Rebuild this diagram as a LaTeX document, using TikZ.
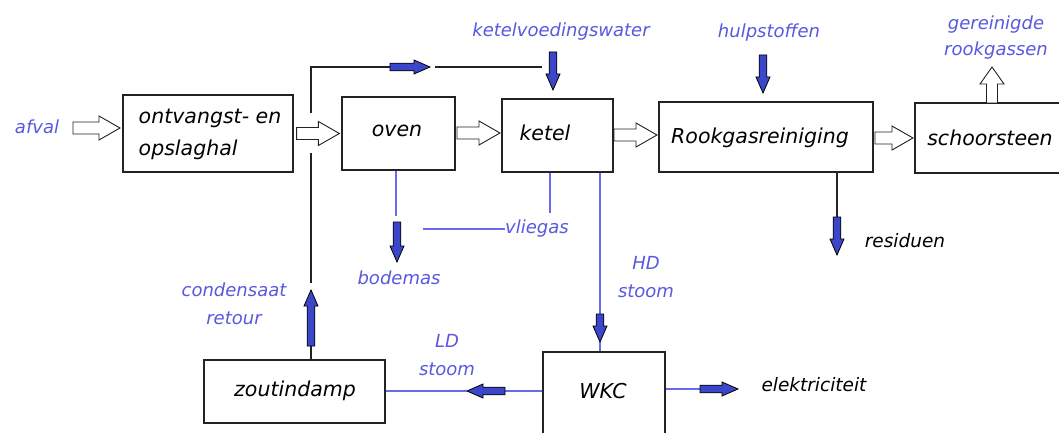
\documentclass[tikz,border=0pt]{standalone}
\usepackage{fontspec}
\setmainfont{DejaVu Sans}
\usetikzlibrary{calc}
\definecolor{lblue}{RGB}{88,88,224}
\definecolor{lnblue}{RGB}{105,105,235}
\definecolor{afill}{RGB}{60,70,200}
\definecolor{edge}{RGB}{35,35,35}
\tikzset{
 box/.style={draw=edge,line width=1.3pt,inner sep=0pt},
 btxt/.style={font=\fontsize{20.5}{32}\selectfont\itshape,text=black,inner sep=0pt},
 stxt/.style={font=\fontsize{18.5}{22}\selectfont\itshape,text=black,inner sep=0pt},
 ltxt/.style={font=\fontsize{18}{28}\selectfont\itshape,text=lblue,inner sep=0pt},
 hol/.style={draw=edge,fill=white,line width=0.9pt,line join=miter},
 sol/.style={draw=black,fill=afill,line width=0.8pt,line join=miter},
 bline/.style={draw=edge,line width=1.2pt},
 uline/.style={draw=lnblue,line width=1.1pt},
}
% block arrow: #1 from, #2 to, #3 shaft half width, #4 head half width, #5 head length, #6 style
\newcommand\blockarr[6]{%
 \coordinate (bah) at ($(#2)!#5!(#1)$);
 \draw[#6] ($(#1)!#3!90:(#2)$) -- ($(bah)!#3!90:(#2)$) -- ($(bah)!#4!90:(#2)$) -- (#2)
   -- ($(bah)!#4!-90:(#2)$) -- ($(bah)!#3!-90:(#2)$) -- ($(#1)!#3!-90:(#2)$) -- cycle;}
\newcommand\holarr[2]{\blockarr{#1}{#2}{6pt}{12pt}{21pt}{hol}}
\newcommand\solarr[2]{\blockarr{#1}{#2}{3.8pt}{7pt}{16pt}{sol}}
\begin{document}
\begin{tikzpicture}[x=1pt,y=-1pt]
\useasboundingbox (0,0) rectangle (1059,433);
\fill[white] (0,0) rectangle (1059,433);
% boxes
\node[box,minimum width=170pt,minimum height=77pt] (ontv) at (208,133.5) {};
\node[box,minimum width=113pt,minimum height=73pt] (oven) at (398.5,133.5) {};
\node[box,minimum width=111pt,minimum height=73pt] (ketel) at (557.5,135.5) {};
\node[box,minimum width=214pt,minimum height=70pt] (rook) at (766,137) {};
\node[box,minimum width=160pt,minimum height=70pt] (schoor) at (995,138) {};
\node[box,minimum width=181pt,minimum height=63pt] (zout) at (294.5,391.5) {};
\node[box,minimum width=122pt,minimum height=90pt] (wkc) at (604,397) {};
% box texts
\node[btxt,align=left] (tontv) at (210,134) {ontvangst- en\\opslaghal};
\node[btxt] (toven) at (397,131) {oven};
\node[btxt] (tketel) at (545,133) {ketel};
\node[btxt] (trook) at (760,138) {Rookgasreiniging};
\node[btxt] (tschoor) at (990,138) {schoorsteen};
\node[btxt] (tzout) at (295,391) {zoutindamp};
\node[btxt] (twkc) at (603,391) {WKC};
% blue labels
\node[ltxt] (lafval) at (37,127) {afval};
\node[ltxt] (lkvw) at (561,32) {ketelvoedingswater};
\node[ltxt] (lhulp) at (769,33) {hulpstoffen};
\node[ltxt,align=center,font=\fontsize{18}{26}\selectfont\itshape] (lgerein) at (996,38) {gereinigde\\rookgassen};
\node[ltxt,anchor=west] (lvlieg) at (505,229) {vliegas};
\node[ltxt] (lbodem) at (399,278) {bodemas};
\node[ltxt,align=center] (lcond) at (234,304) {condensaat\\retour};
\node[ltxt,align=center] (lhd) at (646,277) {HD\\stoom};
\node[ltxt,align=center] (lld) at (447,355) {LD\\stoom};
% black labels
\node[stxt] (lresid) at (905,241) {residuen};
\node[stxt] (lelek) at (814,385) {elektriciteit};
% hollow arrows
\coordinate (a1s) at (73,128); \coordinate (a1e) at (120,128);
\holarr{a1s}{a1e}
\coordinate (a2s) at ($(ontv.east)+(3,0)$); \coordinate (a2e) at ($(oven.west)+(-2,0)$);
\holarr{a2s}{a2e}
\coordinate (a3s) at (457,133); \coordinate (a3e) at (500,133);
\holarr{a3s}{a3e}
\coordinate (a4s) at (614,135); \coordinate (a4e) at (657,135);
\holarr{a4s}{a4e}
\coordinate (a5s) at (875,138); \coordinate (a5e) at (913,138);
\holarr{a5s}{a5e}
\coordinate (a6s) at (992,103); \coordinate (a6e) at (992,67);
\blockarr{a6s}{a6e}{5.5pt}{12pt}{17pt}{hol}
% black connectors
\coordinate (c1) at (311,113); \coordinate (c2) at (311,67); \coordinate (c3) at (390,67);
\coordinate (c4) at (430,67); \coordinate (c5) at (435,67); \coordinate (c6) at (542,67);
\draw[bline] (c1) -- (c2) -- (c3);
\draw[bline] (c5) -- (c6);
\solarr{c3}{c4}
\coordinate (c7) at (311,153); \coordinate (c8) at (311,283);
\draw[bline] (c7) -- (c8);
\coordinate (c9) at (311,346); \coordinate (c10) at (311,290);
\draw[bline] (zout.north -| c9) -- (c9);
\solarr{c9}{c10}
\coordinate (r1) at (837,217); \coordinate (r2) at (837,255);
\draw[bline] (rook.south -| r1) -- (r1);
\solarr{r1}{r2}
% feed arrows
\coordinate (k1) at (553,52); \coordinate (k2) at (553,90);
\solarr{k1}{k2}
\coordinate (h1) at (763,55); \coordinate (h2) at (763,93);
\solarr{h1}{h2}
% blue lines
\coordinate (o1) at (396,216);
\draw[uline] (oven.south -| o1) -- (o1);
\coordinate (b1) at (397,222); \coordinate (b2) at (397,262);
\solarr{b1}{b2}
\coordinate (v1) at (550,213);
\draw[uline] (ketel.south -| v1) -- (v1);
\coordinate (v2) at (423,229);
\draw[uline] (v2) -- (lvlieg.west);
\coordinate (d1) at (600,314); \coordinate (d2) at (600,342);
\draw[uline] (ketel.south -| d1) -- (d1);
\solarr{d1}{d2}
\draw[uline] (d2) -- (wkc.north -| d2);
\coordinate (l1) at (505,391); \coordinate (l2) at (467,391);
\draw[uline] (wkc.west |- l1) -- (l1);
\solarr{l1}{l2}
\draw[uline] (l2) -- (zout.east |- l2);
\coordinate (e1) at (700,389); \coordinate (e2) at (738,389);
\draw[uline] (wkc.east |- e1) -- (e1);
\solarr{e1}{e2}
\end{tikzpicture}
\end{document}
